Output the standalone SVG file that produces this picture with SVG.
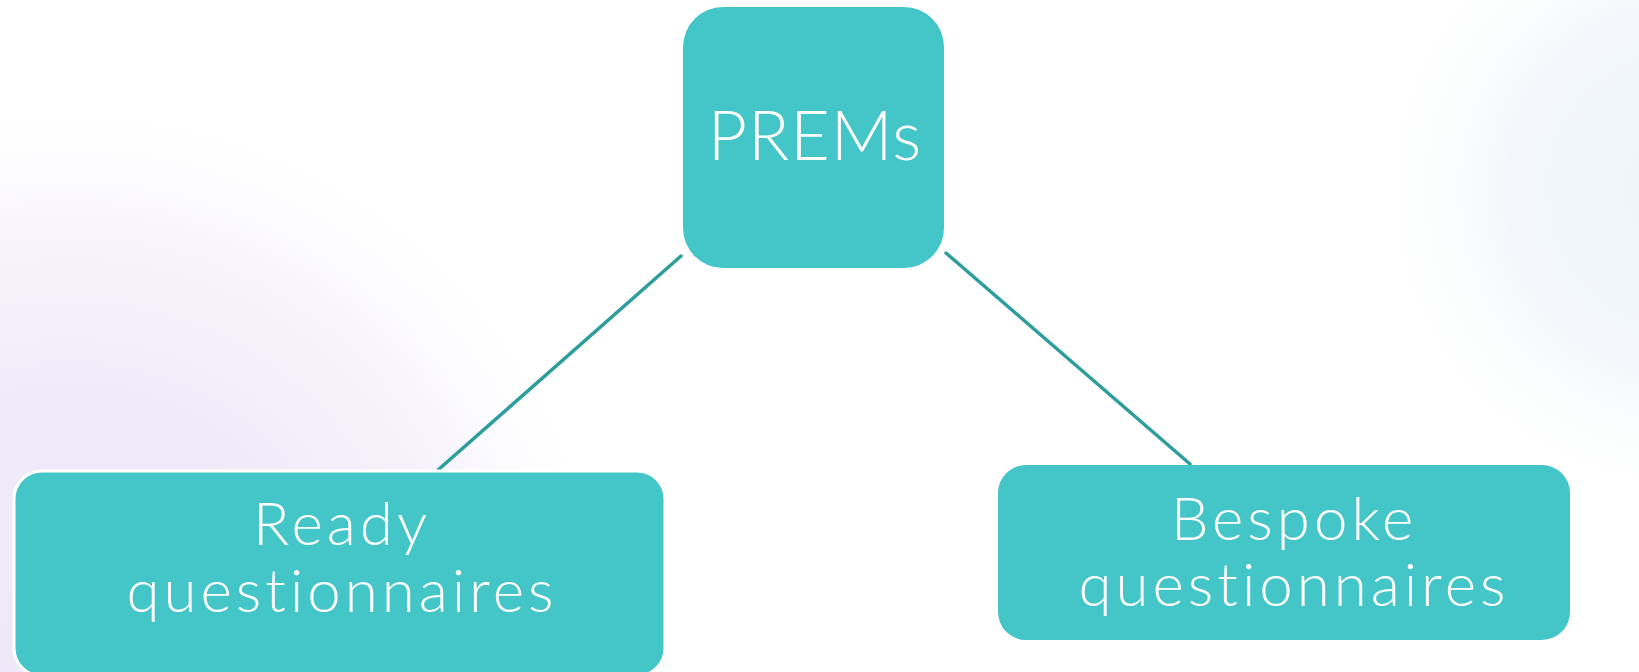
<svg xmlns="http://www.w3.org/2000/svg" width="1639" height="672" viewBox="0 0 1639 672">
<defs>
<radialGradient id="bgL" cx="70" cy="650" r="560" gradientUnits="userSpaceOnUse">
<stop offset="0" stop-color="#EEE8F9"/>
<stop offset="0.45" stop-color="#F0EBF9"/>
<stop offset="0.75" stop-color="#F7F4FC"/>
<stop offset="1" stop-color="#FFFFFF" stop-opacity="0"/>
</radialGradient>
<radialGradient id="bgR" cx="1690" cy="190" r="330" gradientUnits="userSpaceOnUse">
<stop offset="0" stop-color="#EEF5F8"/>
<stop offset="0.55" stop-color="#F2F8FA"/>
<stop offset="1" stop-color="#FFFFFF" stop-opacity="0"/>
</radialGradient>
<style>
.box{fill:#44C6C9;}
.lbl{font-family:"Lato","Liberation Sans",sans-serif;fill:#FFFFFF;text-anchor:middle;font-weight:300;font-variant-ligatures:none;}
.sub{font-size:60px;letter-spacing:4px;}
.conn{stroke:#2E9D9D;stroke-width:3.5;stroke-linecap:round;fill:none;}
</style>
</defs>
<rect width="1639" height="672" fill="#FFFFFF"/>
<rect width="1639" height="672" fill="url(#bgL)"/>
<rect width="1639" height="672" fill="url(#bgR)"/>
<g id="connectors">
<line class="conn" x1="681" y1="256" x2="438" y2="470"/>
<line class="conn" x1="946" y1="253" x2="1190" y2="464"/>
</g>
<g id="node-prems">
<rect class="box" x="683" y="7" width="261" height="261" rx="40"/>
<text class="lbl" x="815" y="160" font-size="68" letter-spacing="1">PREMs</text>
</g>
<g id="node-ready">
<rect class="box" x="14" y="471" width="651" height="205" rx="28" stroke="#FFFFFF" stroke-width="3"/>
<text class="lbl sub" x="342" y="545">Ready</text>
<text class="lbl sub" x="342" y="612">questionnaires</text>
</g>
<g id="node-bespoke">
<rect class="box" x="998" y="465" width="572" height="175" rx="28"/>
<text class="lbl sub" x="1294" y="540">Bespoke</text>
<text class="lbl sub" x="1294" y="606">questionnaires</text>
</g>
</svg>
